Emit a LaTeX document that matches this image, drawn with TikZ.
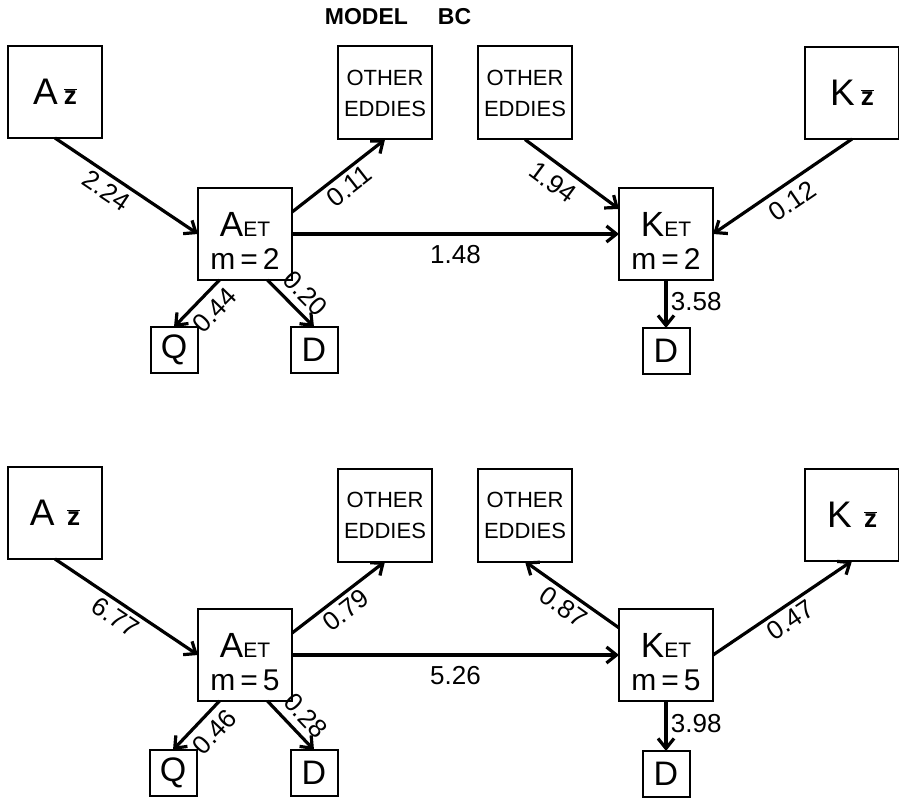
\documentclass[tikz,border=0pt]{standalone}
\usepackage{fontspec}
\setmainfont{Liberation Sans}
\usetikzlibrary{arrows.meta}
\newcommand{\zsub}{{\fontsize{26}{26}\selectfont$\overline{\hbox{\fontsize{26}{26}\selectfont\bfseries z}}$}}
\newcommand{\etsub}{{\fontsize{21}{21}\selectfont ET}}
\newcommand{\bigfirst}[1]{\rule{0pt}{38pt}{\fontsize{35}{35}\selectfont #1}}
\begin{document}
\begin{tikzpicture}[x=1pt,y=-1pt,every node/.style={font=\fontsize{26}{26}\selectfont},
  box/.style={draw,line width=2pt,inner sep=0pt,outer sep=0pt,align=center},
  zbox/.style={box,minimum width=94pt,minimum height=92pt,font=\fontsize{37}{37}\selectfont},
  eddybox/.style={box,minimum width=94pt,minimum height=93pt,font=\fontsize{22}{31}\selectfont},
  etbox/.style={box,minimum width=94pt,minimum height=92pt,font=\fontsize{30}{33}\selectfont},
  endbox/.style={box,minimum width=47pt,minimum height=46pt,font=\fontsize{34}{34}\selectfont},
  flow/.style={line width=3.2pt,-{Straight Barb[length=10pt,width=16pt]}},
  num/.style={sloped,inner sep=4pt}]
\useasboundingbox (0,0) rectangle (899,799);
\node[font=\fontsize{23}{23}\selectfont\bfseries] (title) at (398,17) {MODEL\hspace{30pt}BC};
% m = 2
\node[zbox] (az1) at (55,92) {A\,\zsub};
\node[eddybox] (oe1l) at (385,93) {OTHER\\EDDIES};
\node[eddybox] (oe1r) at (525,93) {OTHER\\EDDIES};
\node[zbox] (kz1) at (852,93) {K\,\zsub};
\node[etbox] (aet1) at (245,234) {\bigfirst{A}\etsub\\m\,=\,2};
\node[etbox] (ket1) at (666,234) {\bigfirst{K}\etsub\\m\,=\,2};
\node[endbox] (q1) at (174,350) {Q};
\node[endbox] (da1) at (314,350) {D};
\node[endbox] (dk1) at (666,351) {D};
\draw[flow] (az1.south) -- node[num,below,pos=0.42] {2.24} (aet1.west);
\draw[flow] (aet1.25) -- node[num,below,pos=0.52] {0.11} (oe1l.south);
\draw[flow] (aet1.east) -- node[below=6pt,pos=0.5] {1.48} (ket1.west);
\draw[flow] (aet1.241) -- node[num,below=3pt,pos=0.38] {0.44} (q1.north);
\draw[flow] (aet1.296) -- node[num,above=3pt,pos=0.55] {0.20} (da1.north);
\draw[flow] (oe1r.south) -- node[num,below=3pt,pos=0.41] {1.94} (ket1.152);
\draw[flow] (kz1.south) -- node[num,below=3pt,pos=0.5] {0.12} (ket1.east);
\draw[flow] (ket1.south) -- node[right,pos=0.45] {3.58} (dk1.north);
% m = 5
\node[zbox] (az2) at (55,513) {A\,\,\zsub};
\node[eddybox] (oe2l) at (385,515) {OTHER\\EDDIES};
\node[eddybox] (oe2r) at (525,515) {OTHER\\EDDIES};
\node[zbox] (kz2) at (852,515) {K\,\,\zsub};
\node[etbox] (aet2) at (245,655) {\bigfirst{A}\etsub\\m\,=\,5};
\node[etbox] (ket2) at (666,655) {\bigfirst{K}\etsub\\m\,=\,5};
\node[endbox] (q2) at (173,773) {Q};
\node[endbox] (da2) at (314,773) {D};
\node[endbox] (dk2) at (666,774) {D};
\draw[flow] (az2.south) -- node[num,below,pos=0.48] {6.77} (aet2.west);
\draw[flow] (aet2.25) -- node[num,below,pos=0.48] {0.79} (oe2l.south);
\draw[flow] (aet2.east) -- node[below=6pt,pos=0.5] {5.26} (ket2.west);
\draw[flow] (aet2.241) -- node[num,below=3pt,pos=0.38] {0.46} (q2.north);
\draw[flow] (aet2.296) -- node[num,above=3pt,pos=0.55] {0.28} (da2.north);
\draw[flow] (ket2.150) -- node[num,below,pos=0.5] {0.87} (oe2r.south);
\draw[flow] (ket2.east) -- node[num,below,pos=0.5] {0.47} (kz2.south);
\draw[flow] (ket2.south) -- node[right,pos=0.45] {3.98} (dk2.north);
\end{tikzpicture}
\end{document}
